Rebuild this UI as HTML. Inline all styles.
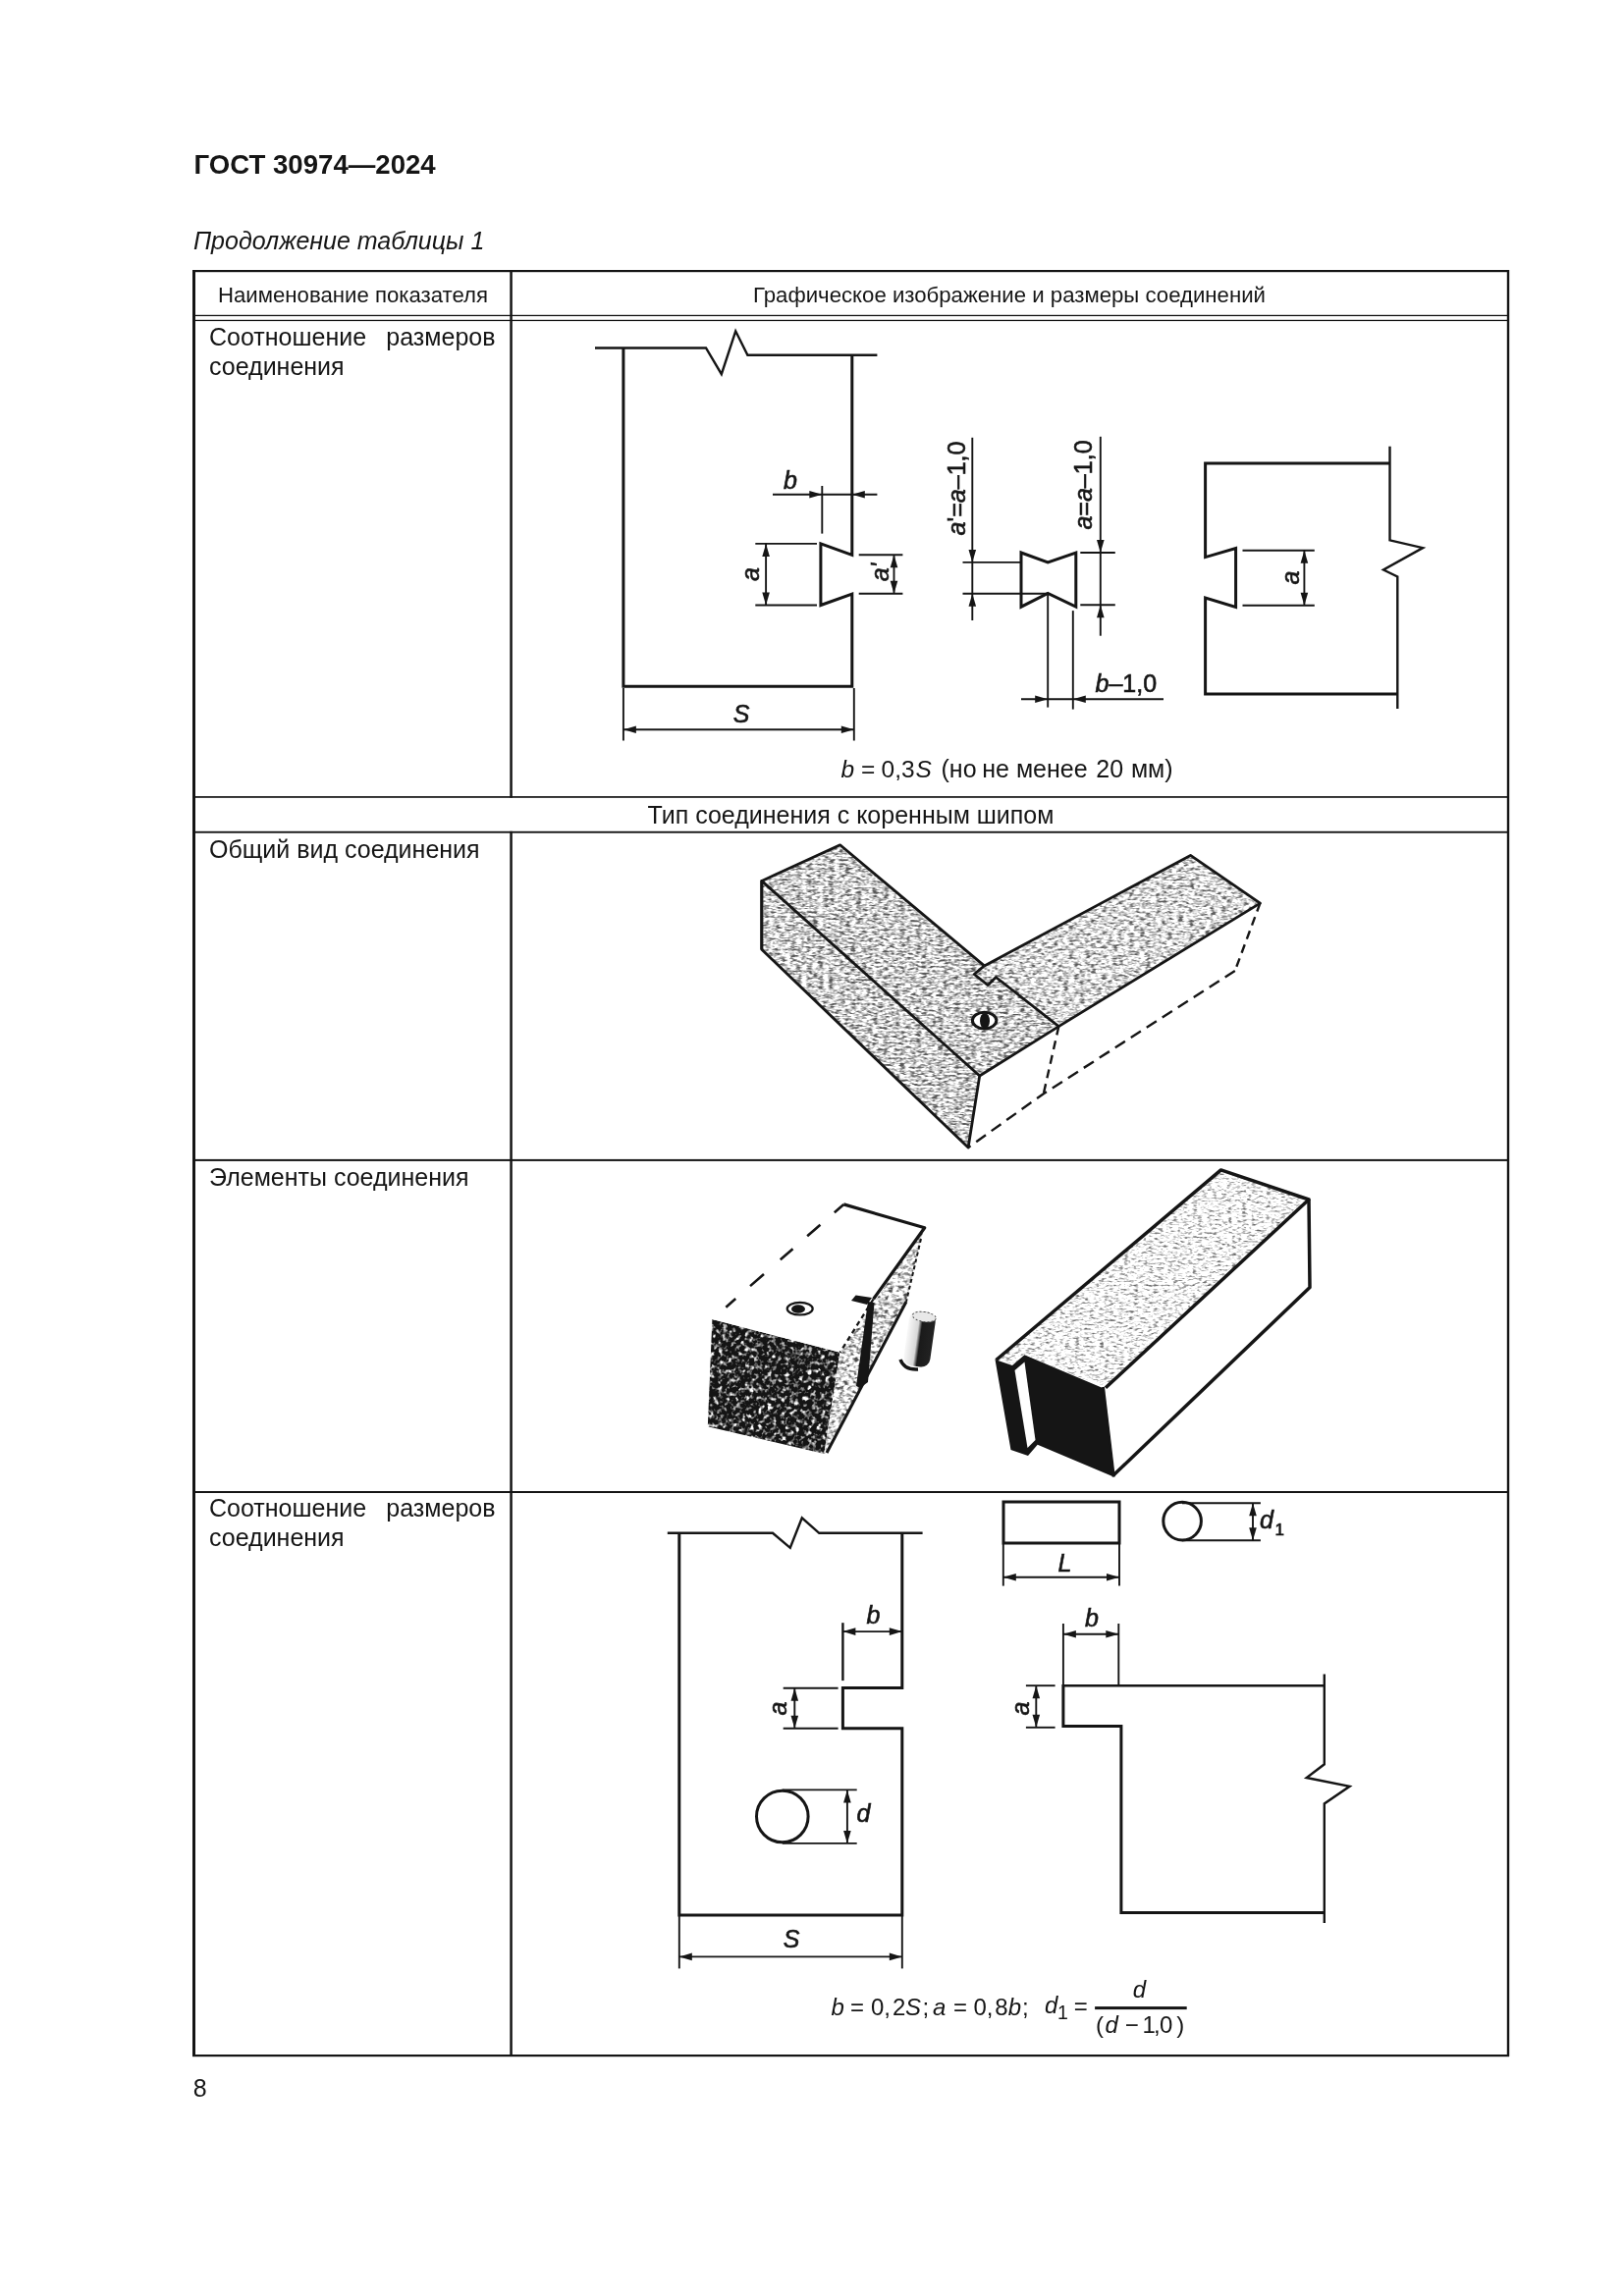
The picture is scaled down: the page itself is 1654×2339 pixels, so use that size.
<!DOCTYPE html>
<html><head><meta charset="utf-8"><style>
html,body{margin:0;padding:0;background:#fff;}
svg{display:block;font-family:"Liberation Sans",sans-serif;will-change:transform;}
</style></head><body>
<svg width="1654" height="2339" viewBox="0 0 1654 2339">
<defs><filter id="texM" x="0" y="0" width="100%" height="100%" filterUnits="objectBoundingBox" color-interpolation-filters="sRGB">
<feTurbulence type="fractalNoise" baseFrequency="0.18 0.45" numOctaves="2" seed="3" result="n"/>
<feColorMatrix in="n" type="matrix" values="0.33 0.33 0.33 0 0  0.33 0.33 0.33 0 0  0.33 0.33 0.33 0 0  0 0 0 0 1" result="g"/>
<feComponentTransfer in="g" result="c"><feFuncR type="linear" slope="5" intercept="-1.77"/><feFuncG type="linear" slope="5" intercept="-1.77"/><feFuncB type="linear" slope="5" intercept="-1.77"/></feComponentTransfer>
<feComponentTransfer in="c" result="d"><feFuncR type="linear" slope="0.65" intercept="0.35"/><feFuncG type="linear" slope="0.65" intercept="0.35"/><feFuncB type="linear" slope="0.65" intercept="0.35"/></feComponentTransfer>
<feComposite in="d" in2="SourceGraphic" operator="in"/>
</filter><filter id="texL" x="0" y="0" width="100%" height="100%" filterUnits="objectBoundingBox" color-interpolation-filters="sRGB">
<feTurbulence type="fractalNoise" baseFrequency="0.18 0.45" numOctaves="2" seed="5" result="n"/>
<feColorMatrix in="n" type="matrix" values="0.33 0.33 0.33 0 0  0.33 0.33 0.33 0 0  0.33 0.33 0.33 0 0  0 0 0 0 1" result="g"/>
<feComponentTransfer in="g" result="c"><feFuncR type="linear" slope="5" intercept="-1.7"/><feFuncG type="linear" slope="5" intercept="-1.7"/><feFuncB type="linear" slope="5" intercept="-1.7"/></feComponentTransfer>
<feComponentTransfer in="c" result="d"><feFuncR type="linear" slope="0.64" intercept="0.36"/><feFuncG type="linear" slope="0.64" intercept="0.36"/><feFuncB type="linear" slope="0.64" intercept="0.36"/></feComponentTransfer>
<feComposite in="d" in2="SourceGraphic" operator="in"/>
</filter><filter id="texD" x="0" y="0" width="100%" height="100%" filterUnits="objectBoundingBox" color-interpolation-filters="sRGB">
<feTurbulence type="fractalNoise" baseFrequency="0.22 0.22" numOctaves="2" seed="7" result="n"/>
<feColorMatrix in="n" type="matrix" values="0.33 0.33 0.33 0 0  0.33 0.33 0.33 0 0  0.33 0.33 0.33 0 0  0 0 0 0 1" result="g"/>
<feComponentTransfer in="g" result="c"><feFuncR type="linear" slope="6" intercept="-2.9"/><feFuncG type="linear" slope="6" intercept="-2.9"/><feFuncB type="linear" slope="6" intercept="-2.9"/></feComponentTransfer>
<feComponentTransfer in="c" result="d"><feFuncR type="linear" slope="0.92" intercept="0.08"/><feFuncG type="linear" slope="0.92" intercept="0.08"/><feFuncB type="linear" slope="0.92" intercept="0.08"/></feComponentTransfer>
<feComposite in="d" in2="SourceGraphic" operator="in"/>
</filter><filter id="texM2" x="0" y="0" width="100%" height="100%" filterUnits="objectBoundingBox" color-interpolation-filters="sRGB">
<feTurbulence type="fractalNoise" baseFrequency="0.2 0.3" numOctaves="2" seed="9" result="n"/>
<feColorMatrix in="n" type="matrix" values="0.33 0.33 0.33 0 0  0.33 0.33 0.33 0 0  0.33 0.33 0.33 0 0  0 0 0 0 1" result="g"/>
<feComponentTransfer in="g" result="c"><feFuncR type="linear" slope="5" intercept="-1.7"/><feFuncG type="linear" slope="5" intercept="-1.7"/><feFuncB type="linear" slope="5" intercept="-1.7"/></feComponentTransfer>
<feComponentTransfer in="c" result="d"><feFuncR type="linear" slope="0.7" intercept="0.3"/><feFuncG type="linear" slope="0.7" intercept="0.3"/><feFuncB type="linear" slope="0.7" intercept="0.3"/></feComponentTransfer>
<feComposite in="d" in2="SourceGraphic" operator="in"/>
</filter><filter id="texL2" x="0" y="0" width="100%" height="100%" filterUnits="objectBoundingBox" color-interpolation-filters="sRGB">
<feTurbulence type="fractalNoise" baseFrequency="0.2 0.45" numOctaves="2" seed="11" result="n"/>
<feColorMatrix in="n" type="matrix" values="0.33 0.33 0.33 0 0  0.33 0.33 0.33 0 0  0.33 0.33 0.33 0 0  0 0 0 0 1" result="g"/>
<feComponentTransfer in="g" result="c"><feFuncR type="linear" slope="5" intercept="-1.5"/><feFuncG type="linear" slope="5" intercept="-1.5"/><feFuncB type="linear" slope="5" intercept="-1.5"/></feComponentTransfer>
<feComponentTransfer in="c" result="d"><feFuncR type="linear" slope="0.6" intercept="0.4"/><feFuncG type="linear" slope="0.6" intercept="0.4"/><feFuncB type="linear" slope="0.6" intercept="0.4"/></feComponentTransfer>
<feComposite in="d" in2="SourceGraphic" operator="in"/>
</filter></defs>
<text x="197.5" y="176.7" font-size="27.6" font-weight="bold" font-style="normal" text-anchor="start" fill="#151515" >ГОСТ 30974—2024</text>
<text x="197" y="253.6" font-size="25" font-weight="normal" font-style="italic" text-anchor="start" fill="#151515" >Продолжение таблицы 1</text>
<rect x="196" y="275" width="1341" height="2.2" fill="#151515"/>
<rect x="196" y="275" width="3" height="1820" fill="#151515"/>
<rect x="1534.8" y="275" width="2.4" height="1820" fill="#151515"/>
<rect x="196" y="2093" width="1341" height="2.2" fill="#151515"/>
<rect x="196" y="320.8" width="1341" height="1.3" fill="#151515"/>
<rect x="196" y="325.8" width="1341" height="1.3" fill="#151515"/>
<rect x="519.3" y="275" width="2.5" height="537.7" fill="#151515"/>
<rect x="519.3" y="846.8" width="2.5" height="1248.2" fill="#151515"/>
<rect x="196" y="811.1" width="1341" height="1.7" fill="#151515"/>
<rect x="196" y="846.8" width="1341" height="1.9" fill="#151515"/>
<rect x="196" y="1180.9" width="1341" height="2" fill="#151515"/>
<rect x="196" y="1519" width="1341" height="2" fill="#151515"/>
<text x="359.5" y="307.8" font-size="22.2" font-weight="normal" font-style="normal" text-anchor="middle" fill="#151515" >Наименование показателя</text>
<text x="1028" y="307.8" font-size="22.2" font-weight="normal" font-style="normal" text-anchor="middle" fill="#151515" >Графическое изображение и размеры соединений</text>
<text x="213" y="351.7" font-size="25" font-weight="normal" font-style="normal" text-anchor="start" fill="#151515" >Соотношение</text>
<text x="504.5" y="351.7" font-size="25" font-weight="normal" font-style="normal" text-anchor="end" fill="#151515" >размеров</text>
<text x="213" y="381.7" font-size="25" font-weight="normal" font-style="normal" text-anchor="start" fill="#151515" >соединения</text>
<text x="866.5" y="838.7" font-size="25" font-weight="normal" font-style="normal" text-anchor="middle" fill="#151515" >Тип соединения с коренным шипом</text>
<text x="213" y="873.9" font-size="25" font-weight="normal" font-style="normal" text-anchor="start" fill="#151515" >Общий вид соединения</text>
<text x="213" y="1207.9" font-size="25" font-weight="normal" font-style="normal" text-anchor="start" fill="#151515" >Элементы соединения</text>
<text x="213" y="1545.4" font-size="25" font-weight="normal" font-style="normal" text-anchor="start" fill="#151515" >Соотношение</text>
<text x="504.5" y="1545.4" font-size="25" font-weight="normal" font-style="normal" text-anchor="end" fill="#151515" >размеров</text>
<text x="213" y="1575.4" font-size="25" font-weight="normal" font-style="normal" text-anchor="start" fill="#151515" >соединения</text>
<text x="196.8" y="2135.6" font-size="25" font-weight="normal" font-style="normal" text-anchor="start" fill="#151515" >8</text>
<polyline points="606,354.5 719,354.5 734.8,381.2 749.2,337.3 761.4,361.8 893.4,361.8" fill="none" stroke="#151515" stroke-width="2.4" stroke-linejoin="miter" stroke-linecap="butt"/>
<polyline points="634.9,354.5 634.9,699.3 867.8,699.3 867.8,605.1 835.9,616.5 835.9,553.9 867.8,565.3 867.8,361.8" fill="none" stroke="#151515" stroke-width="3.0" stroke-linejoin="miter" stroke-linecap="butt"/>
<line x1="787" y1="503.8" x2="893.4" y2="503.8" stroke="#151515" stroke-width="1.9" stroke-linecap="butt"/>
<line x1="837.3" y1="495" x2="837.3" y2="543.6" stroke="#151515" stroke-width="1.9" stroke-linecap="butt"/>
<polygon points="837.3,503.8 824.30,507.60 824.30,500.00" fill="#151515"/>
<polygon points="867.8,503.8 880.80,500.00 880.80,507.60" fill="#151515"/>
<text x="798" y="497.5" font-size="25" font-weight="normal" font-style="italic" text-anchor="start" fill="#151515" stroke="#151515" stroke-width="0.6">b</text>
<line x1="769.3" y1="553.9" x2="832" y2="553.9" stroke="#151515" stroke-width="1.9" stroke-linecap="butt"/>
<line x1="769.3" y1="616.5" x2="832" y2="616.5" stroke="#151515" stroke-width="1.9" stroke-linecap="butt"/>
<line x1="780.1" y1="553.9" x2="780.1" y2="616.5" stroke="#151515" stroke-width="1.9" stroke-linecap="butt"/>
<polygon points="780.1,553.9 783.90,566.90 776.30,566.90" fill="#151515"/>
<polygon points="780.1,616.5 776.30,603.50 783.90,603.50" fill="#151515"/>
<text x="0" y="0" font-size="25" font-style="italic" text-anchor="middle" fill="#151515" dominant-baseline="central" transform="translate(763.5,585) rotate(-90)" stroke="#151515" stroke-width="0.6">a</text>
<line x1="874.7" y1="565.3" x2="919.4" y2="565.3" stroke="#151515" stroke-width="1.9" stroke-linecap="butt"/>
<line x1="874.7" y1="604.8" x2="919.4" y2="604.8" stroke="#151515" stroke-width="1.9" stroke-linecap="butt"/>
<line x1="910.5" y1="565.3" x2="910.5" y2="604.8" stroke="#151515" stroke-width="1.9" stroke-linecap="butt"/>
<polygon points="910.5,565.3 914.30,578.30 906.70,578.30" fill="#151515"/>
<polygon points="910.5,604.8 906.70,591.80 914.30,591.80" fill="#151515"/>
<text x="0" y="0" font-size="25" font-style="italic" text-anchor="middle" fill="#151515" dominant-baseline="central" transform="translate(895.5,583) rotate(-90)" stroke="#151515" stroke-width="0.6">a'</text>
<line x1="634.9" y1="701" x2="634.9" y2="754.5" stroke="#151515" stroke-width="1.9" stroke-linecap="butt"/>
<line x1="869.8" y1="701" x2="869.8" y2="754.5" stroke="#151515" stroke-width="1.9" stroke-linecap="butt"/>
<line x1="634.9" y1="743.3" x2="869.8" y2="743.3" stroke="#151515" stroke-width="1.9" stroke-linecap="butt"/>
<polygon points="634.9,743.3 647.90,739.50 647.90,747.10" fill="#151515"/>
<polygon points="869.8,743.3 856.80,747.10 856.80,739.50" fill="#151515"/>
<text x="755" y="735.8" font-size="25" font-weight="normal" font-style="italic" text-anchor="middle" fill="#151515" stroke="#151515" stroke-width="0.6">S</text>
<polygon points="1040,563 1067.2,572.9 1095.8,563 1095.8,618.2 1067.2,604.4 1040,618.2" fill="none" stroke="#151515" stroke-width="3.0" stroke-linejoin="miter" stroke-linecap="butt"/>
<line x1="990.3" y1="445.8" x2="990.3" y2="632" stroke="#151515" stroke-width="1.9" stroke-linecap="butt"/>
<line x1="980.5" y1="572.9" x2="1040" y2="572.9" stroke="#151515" stroke-width="1.9" stroke-linecap="butt"/>
<line x1="980.5" y1="604.8" x2="1067" y2="604.8" stroke="#151515" stroke-width="1.9" stroke-linecap="butt"/>
<polygon points="990.3,572.9 986.50,559.90 994.10,559.90" fill="#151515"/>
<polygon points="990.3,604.8 994.10,617.80 986.50,617.80" fill="#151515"/>
<text x="0" y="0" font-size="25" font-style="normal" text-anchor="middle" fill="#151515" dominant-baseline="central" transform="translate(973.5,497.5) rotate(-90)" stroke="#151515" stroke-width="0.6"><tspan font-style='italic'>a</tspan>'=<tspan font-style='italic'>a</tspan>–1,0</text>
<line x1="1120.8" y1="444.8" x2="1120.8" y2="647.7" stroke="#151515" stroke-width="1.9" stroke-linecap="butt"/>
<line x1="1100.3" y1="563" x2="1135.8" y2="563" stroke="#151515" stroke-width="1.9" stroke-linecap="butt"/>
<line x1="1100.3" y1="616.2" x2="1135.8" y2="616.2" stroke="#151515" stroke-width="1.9" stroke-linecap="butt"/>
<polygon points="1120.8,563 1117.00,550.00 1124.60,550.00" fill="#151515"/>
<polygon points="1120.8,616.2 1124.60,629.20 1117.00,629.20" fill="#151515"/>
<text x="0" y="0" font-size="25" font-style="normal" text-anchor="middle" fill="#151515" dominant-baseline="central" transform="translate(1103,494) rotate(-90)" stroke="#151515" stroke-width="0.6"><tspan font-style='italic'>a</tspan>=<tspan font-style='italic'>a</tspan>–1,0</text>
<line x1="1067.2" y1="604.4" x2="1067.2" y2="720.6" stroke="#151515" stroke-width="1.9" stroke-linecap="butt"/>
<line x1="1092.8" y1="622.1" x2="1092.8" y2="722.6" stroke="#151515" stroke-width="1.9" stroke-linecap="butt"/>
<line x1="1040" y1="712.2" x2="1185" y2="712.2" stroke="#151515" stroke-width="1.9" stroke-linecap="butt"/>
<polygon points="1067.2,712.2 1054.20,716.00 1054.20,708.40" fill="#151515"/>
<polygon points="1092.8,712.2 1105.80,708.40 1105.80,716.00" fill="#151515"/>
<text x="1115.5" y="704.6" font-size="25" font-weight="normal" font-style="normal" text-anchor="start" fill="#151515" stroke="#151515" stroke-width="0.6"><tspan font-style='italic'>b</tspan>–1,0</text>
<polyline points="1415.5,471.9 1227.6,471.9 1227.6,567.6 1258.6,558.6 1258.6,618.4 1227.6,609 1227.6,706.9 1423.3,706.9" fill="none" stroke="#151515" stroke-width="3.0" stroke-linejoin="miter" stroke-linecap="butt"/>
<polyline points="1415.5,454.7 1415.5,550.3 1449.1,558.1 1409,580.5 1423.3,587.4 1423.3,721.9" fill="none" stroke="#151515" stroke-width="2.4" stroke-linejoin="miter" stroke-linecap="butt"/>
<line x1="1265.5" y1="560.7" x2="1338.8" y2="560.7" stroke="#151515" stroke-width="1.9" stroke-linecap="butt"/>
<line x1="1265.5" y1="616.7" x2="1338.8" y2="616.7" stroke="#151515" stroke-width="1.9" stroke-linecap="butt"/>
<line x1="1328.4" y1="560.7" x2="1328.4" y2="616.7" stroke="#151515" stroke-width="1.9" stroke-linecap="butt"/>
<polygon points="1328.4,560.7 1332.20,573.70 1324.60,573.70" fill="#151515"/>
<polygon points="1328.4,616.7 1324.60,603.70 1332.20,603.70" fill="#151515"/>
<text x="0" y="0" font-size="25" font-style="italic" text-anchor="middle" fill="#151515" dominant-baseline="central" transform="translate(1314,588.5) rotate(-90)" stroke="#151515" stroke-width="0.6">a</text>
<text x="856.5" y="791.6" font-size="24.5" font-weight="normal" font-style="italic" text-anchor="start" fill="#151515" >b</text>
<text x="877" y="791.6" font-size="24.5" font-weight="normal" font-style="normal" text-anchor="start" fill="#151515" >=</text>
<text x="897.5" y="791.6" font-size="24.5" font-weight="normal" font-style="normal" text-anchor="start" fill="#151515" >0,3</text>
<text x="932.5" y="791.6" font-size="24.5" font-weight="normal" font-style="italic" text-anchor="start" fill="#151515" >S</text>
<text x="958.5" y="791.6" font-size="25" font-weight="normal" font-style="normal" text-anchor="start" fill="#151515" >(но</text>
<text x="1000.3" y="791.6" font-size="25" font-weight="normal" font-style="normal" text-anchor="start" fill="#151515" >не</text>
<text x="1034.9" y="791.6" font-size="25" font-weight="normal" font-style="normal" text-anchor="start" fill="#151515" >менее</text>
<text x="1116.3" y="791.6" font-size="25" font-weight="normal" font-style="normal" text-anchor="start" fill="#151515" >20</text>
<text x="1151.9" y="791.6" font-size="25" font-weight="normal" font-style="normal" text-anchor="start" fill="#151515" >мм)</text>
<polyline points="679.8,1561.8 787,1561.8 804.8,1576.8 816.8,1546.4 834.3,1561.8 939.6,1561.8" fill="none" stroke="#151515" stroke-width="2.4" stroke-linejoin="miter" stroke-linecap="butt"/>
<polyline points="691.8,1561.8 691.8,1950.9 918.8,1950.9 918.8,1760.7 858.4,1760.7 858.4,1719.6 918.8,1719.6 918.8,1561.8" fill="none" stroke="#151515" stroke-width="3.0" stroke-linejoin="miter" stroke-linecap="butt"/>
<line x1="858.4" y1="1653.2" x2="858.4" y2="1712.1" stroke="#151515" stroke-width="2.4" stroke-linecap="butt"/>
<line x1="858.4" y1="1662.1" x2="918.8" y2="1662.1" stroke="#151515" stroke-width="1.9" stroke-linecap="butt"/>
<polygon points="858.4,1662.1 871.40,1658.30 871.40,1665.90" fill="#151515"/>
<polygon points="918.8,1662.1 905.80,1665.90 905.80,1658.30" fill="#151515"/>
<text x="882.5" y="1653.5" font-size="25" font-weight="normal" font-style="italic" text-anchor="start" fill="#151515" stroke="#151515" stroke-width="0.6">b</text>
<line x1="797.7" y1="1719.8" x2="853.6" y2="1719.8" stroke="#151515" stroke-width="1.9" stroke-linecap="butt"/>
<line x1="797.7" y1="1760.7" x2="853.6" y2="1760.7" stroke="#151515" stroke-width="1.9" stroke-linecap="butt"/>
<line x1="809.3" y1="1719.8" x2="809.3" y2="1760.7" stroke="#151515" stroke-width="1.9" stroke-linecap="butt"/>
<polygon points="809.3,1719.8 813.10,1732.80 805.50,1732.80" fill="#151515"/>
<polygon points="809.3,1760.7 805.50,1747.70 813.10,1747.70" fill="#151515"/>
<text x="0" y="0" font-size="25" font-style="italic" text-anchor="middle" fill="#151515" dominant-baseline="central" transform="translate(791.5,1740.5) rotate(-90)" stroke="#151515" stroke-width="0.6">a</text>
<circle cx="796.8" cy="1850.5" r="26.3" fill="none" stroke="#151515" stroke-width="3.0"/>
<line x1="796.8" y1="1823.4" x2="872.7" y2="1823.4" stroke="#151515" stroke-width="1.9" stroke-linecap="butt"/>
<line x1="796.8" y1="1877.9" x2="872.7" y2="1877.9" stroke="#151515" stroke-width="1.9" stroke-linecap="butt"/>
<line x1="862.9" y1="1823.4" x2="862.9" y2="1877.9" stroke="#151515" stroke-width="1.9" stroke-linecap="butt"/>
<polygon points="862.9,1823.4 866.70,1836.40 859.10,1836.40" fill="#151515"/>
<polygon points="862.9,1877.9 859.10,1864.90 866.70,1864.90" fill="#151515"/>
<text x="872.5" y="1856.2" font-size="25" font-weight="normal" font-style="italic" text-anchor="start" fill="#151515" stroke="#151515" stroke-width="0.6">d</text>
<line x1="691.8" y1="1952" x2="691.8" y2="2005.4" stroke="#151515" stroke-width="1.9" stroke-linecap="butt"/>
<line x1="918.8" y1="1952" x2="918.8" y2="2005.4" stroke="#151515" stroke-width="1.9" stroke-linecap="butt"/>
<line x1="691.8" y1="1993.4" x2="918.8" y2="1993.4" stroke="#151515" stroke-width="1.9" stroke-linecap="butt"/>
<polygon points="691.8,1993.4 704.80,1989.60 704.80,1997.20" fill="#151515"/>
<polygon points="918.8,1993.4 905.80,1997.20 905.80,1989.60" fill="#151515"/>
<text x="806" y="1983.6" font-size="25" font-weight="normal" font-style="italic" text-anchor="middle" fill="#151515" stroke="#151515" stroke-width="0.6">S</text>
<polygon points="1022,1530 1140,1530 1140,1572 1022,1572" fill="none" stroke="#151515" stroke-width="3.0" stroke-linejoin="miter" stroke-linecap="butt"/>
<line x1="1021.8" y1="1573" x2="1021.8" y2="1615.6" stroke="#151515" stroke-width="1.9" stroke-linecap="butt"/>
<line x1="1140" y1="1573" x2="1140" y2="1615.6" stroke="#151515" stroke-width="1.9" stroke-linecap="butt"/>
<line x1="1021.8" y1="1606.7" x2="1140" y2="1606.7" stroke="#151515" stroke-width="1.9" stroke-linecap="butt"/>
<polygon points="1021.8,1606.7 1034.80,1602.90 1034.80,1610.50" fill="#151515"/>
<polygon points="1140,1606.7 1127.00,1610.50 1127.00,1602.90" fill="#151515"/>
<text x="1084.5" y="1600.8" font-size="25" font-weight="normal" font-style="italic" text-anchor="middle" fill="#151515" stroke="#151515" stroke-width="0.6">L</text>
<circle cx="1204.1" cy="1549.6" r="19.3" fill="none" stroke="#151515" stroke-width="3.0"/>
<line x1="1204" y1="1531.2" x2="1283.9" y2="1531.2" stroke="#151515" stroke-width="1.9" stroke-linecap="butt"/>
<line x1="1204" y1="1569.3" x2="1283.9" y2="1569.3" stroke="#151515" stroke-width="1.9" stroke-linecap="butt"/>
<line x1="1276" y1="1531.2" x2="1276" y2="1569.3" stroke="#151515" stroke-width="1.9" stroke-linecap="butt"/>
<polygon points="1276,1531.2 1279.80,1544.20 1272.20,1544.20" fill="#151515"/>
<polygon points="1276,1569.3 1272.20,1556.30 1279.80,1556.30" fill="#151515"/>
<text x="1283" y="1557.4" font-size="25" font-weight="normal" font-style="italic" text-anchor="start" fill="#151515" stroke="#151515" stroke-width="0.6">d</text>
<text x="1298.5" y="1563.6" font-size="17" font-weight="normal" font-style="normal" text-anchor="start" fill="#151515" stroke="#151515" stroke-width="0.6">1</text>
<line x1="1082.9" y1="1717.2" x2="1348.8" y2="1717.2" stroke="#151515" stroke-width="2.4" stroke-linecap="butt"/>
<polyline points="1082.9,1716 1082.9,1758.5 1141.9,1758.5 1141.9,1948.6 1348.8,1948.6" fill="none" stroke="#151515" stroke-width="3.0" stroke-linejoin="miter" stroke-linecap="butt"/>
<polyline points="1348.8,1705.5 1348.8,1797.3 1330.7,1811 1374.6,1819.8 1348.8,1837.4 1348.8,1959" fill="none" stroke="#151515" stroke-width="2.4" stroke-linejoin="miter" stroke-linecap="butt"/>
<line x1="1082.9" y1="1654" x2="1082.9" y2="1717" stroke="#151515" stroke-width="1.9" stroke-linecap="butt"/>
<line x1="1139.3" y1="1654" x2="1139.3" y2="1717" stroke="#151515" stroke-width="1.9" stroke-linecap="butt"/>
<line x1="1082.9" y1="1664.8" x2="1139.3" y2="1664.8" stroke="#151515" stroke-width="1.9" stroke-linecap="butt"/>
<polygon points="1082.9,1664.8 1095.90,1661.00 1095.90,1668.60" fill="#151515"/>
<polygon points="1139.3,1664.8 1126.30,1668.60 1126.30,1661.00" fill="#151515"/>
<text x="1105" y="1657" font-size="25" font-weight="normal" font-style="italic" text-anchor="start" fill="#151515" stroke="#151515" stroke-width="0.6">b</text>
<line x1="1044.9" y1="1717.2" x2="1074.6" y2="1717.2" stroke="#151515" stroke-width="1.9" stroke-linecap="butt"/>
<line x1="1044.9" y1="1759.8" x2="1074.6" y2="1759.8" stroke="#151515" stroke-width="1.9" stroke-linecap="butt"/>
<line x1="1055.3" y1="1717.2" x2="1055.3" y2="1759.8" stroke="#151515" stroke-width="1.9" stroke-linecap="butt"/>
<polygon points="1055.3,1717.2 1059.10,1730.20 1051.50,1730.20" fill="#151515"/>
<polygon points="1055.3,1759.8 1051.50,1746.80 1059.10,1746.80" fill="#151515"/>
<text x="0" y="0" font-size="25" font-style="italic" text-anchor="middle" fill="#151515" dominant-baseline="central" transform="translate(1039,1740.5) rotate(-90)" stroke="#151515" stroke-width="0.6">a</text>
<text x="846.5" y="2053.2" font-size="24" font-weight="normal" font-style="italic" text-anchor="start" fill="#151515" >b</text>
<text x="866" y="2053.2" font-size="24" font-weight="normal" font-style="normal" text-anchor="start" fill="#151515" >=</text>
<text x="887" y="2053.2" font-size="24" font-weight="normal" font-style="normal" text-anchor="start" fill="#151515" >0,</text>
<text x="909" y="2053.2" font-size="24" font-weight="normal" font-style="normal" text-anchor="start" fill="#151515" >2</text>
<text x="922" y="2053.2" font-size="24" font-weight="normal" font-style="italic" text-anchor="start" fill="#151515" >S</text>
<text x="939.5" y="2053.2" font-size="24" font-weight="normal" font-style="normal" text-anchor="start" fill="#151515" >;</text>
<text x="950" y="2053.2" font-size="24" font-weight="normal" font-style="italic" text-anchor="start" fill="#151515" >a</text>
<text x="971" y="2053.2" font-size="24" font-weight="normal" font-style="normal" text-anchor="start" fill="#151515" >=</text>
<text x="991.5" y="2053.2" font-size="24" font-weight="normal" font-style="normal" text-anchor="start" fill="#151515" >0,</text>
<text x="1013.2" y="2053.2" font-size="24" font-weight="normal" font-style="normal" text-anchor="start" fill="#151515" >8</text>
<text x="1026.8" y="2053.2" font-size="24" font-weight="normal" font-style="italic" text-anchor="start" fill="#151515" >b</text>
<text x="1041" y="2053.2" font-size="24" font-weight="normal" font-style="normal" text-anchor="start" fill="#151515" >;</text>
<text x="1064" y="2050.8" font-size="24" font-weight="normal" font-style="italic" text-anchor="start" fill="#151515" >d</text>
<text x="1077" y="2057.4" font-size="19.5" font-weight="normal" font-style="normal" text-anchor="start" fill="#151515" >1</text>
<text x="1093.8" y="2051.5" font-size="24" font-weight="normal" font-style="normal" text-anchor="start" fill="#151515" >=</text>
<rect x="1115.1" y="2044.1" width="93.6" height="3" fill="#151515"/>
<text x="1153.8" y="2034.7" font-size="24" font-weight="normal" font-style="italic" text-anchor="start" fill="#151515" >d</text>
<text x="1116" y="2070.7" font-size="24" font-weight="normal" font-style="normal" text-anchor="start" fill="#151515" >(</text>
<text x="1125.5" y="2070.7" font-size="24" font-weight="normal" font-style="italic" text-anchor="start" fill="#151515" >d</text>
<text x="1145.8" y="2070.7" font-size="24" font-weight="normal" font-style="normal" text-anchor="start" fill="#151515" >−</text>
<text x="1163.6" y="2070.7" font-size="24" font-weight="normal" font-style="normal" text-anchor="start" fill="#151515" >1</text>
<text x="1175" y="2070.7" font-size="24" font-weight="normal" font-style="normal" text-anchor="start" fill="#151515" >,</text>
<text x="1181" y="2070.7" font-size="24" font-weight="normal" font-style="normal" text-anchor="start" fill="#151515" >0</text>
<text x="1198.3" y="2070.7" font-size="24" font-weight="normal" font-style="normal" text-anchor="start" fill="#151515" >)</text>
<polygon points="775.8,897.4 997.7,1096 986.1,1169 775.8,967.2" fill="#fff" filter="url(#texM)"/>
<polygon points="775.8,897.4 855.6,860.8 1002.5,983.9 992.2,992.5 1006.2,1003.6 1014.3,995.5 1078.3,1045.6 997.7,1096" fill="#fff" filter="url(#texM)"/>
<polygon points="1002.5,983.9 1212.5,871.4 1283.4,920.1 1078.3,1045.6 1014.3,995.5 1006.2,1003.6 992.2,992.5" fill="#fff" filter="url(#texL)"/>
<polyline points="775.8,967.2 775.8,897.4 855.6,860.8 1002.5,983.9" fill="none" stroke="#151515" stroke-width="2.8" stroke-linejoin="round" stroke-linecap="butt"/>
<polygon points="775.8,897.4 997.7,1096 986.1,1169 775.8,967.2" fill="none" stroke="#151515" stroke-width="2.8" stroke-linejoin="round" stroke-linecap="butt"/>
<polyline points="997.7,1096 1078.3,1045.6 1283.4,920.1 1212.5,871.4 1002.5,983.9" fill="none" stroke="#151515" stroke-width="2.8" stroke-linejoin="round" stroke-linecap="butt"/>
<polyline points="1002.5,983.9 992.2,992.5 1006.2,1003.6 1014.3,995.5 1078.3,1045.6" fill="none" stroke="#151515" stroke-width="2.8" stroke-linejoin="round" stroke-linecap="butt"/>
<line x1="1078.3" y1="1045.6" x2="1062.8" y2="1114.2" stroke="#151515" stroke-width="2.4" stroke-linecap="butt" stroke-dasharray="9,6"/>
<line x1="1283.4" y1="920.1" x2="1257.8" y2="989" stroke="#151515" stroke-width="2.4" stroke-linecap="butt" stroke-dasharray="9,6"/>
<polyline points="1257.8,989 1062.8,1114.2 986.1,1169" fill="none" stroke="#151515" stroke-width="2.4" stroke-linejoin="miter" stroke-linecap="butt" stroke-dasharray="12,7"/>
<ellipse cx="1002.6" cy="1039.6" rx="12.2" ry="8.3" fill="#fff" stroke="#151515" stroke-width="3"/>
<ellipse cx="1003" cy="1040" rx="5" ry="8" fill="#151515"/>
<polygon points="725.4,1343.9 855.5,1377.8 839.3,1480.9 720.8,1453.2" fill="#fff" filter="url(#texD)"/>
<polygon points="855.5,1377.8 941.7,1250.8 938,1262 922.4,1327 843.9,1478 839.3,1480.9" fill="#fff" filter="url(#texM2)"/>
<polygon points="859.3,1226.9 941.7,1250.8 855.5,1377.8 725.4,1343.9" fill="#fff"/>
<polyline points="859.3,1226.9 941.7,1250.8 889.6,1323.3" fill="none" stroke="#151515" stroke-width="3.2" stroke-linejoin="round" stroke-linecap="butt"/>
<line x1="889.6" y1="1323.3" x2="855.5" y2="1377.8" stroke="#151515" stroke-width="2.2" stroke-linecap="butt" stroke-dasharray="5,4"/>
<line x1="923" y1="1326" x2="842" y2="1480" stroke="#151515" stroke-width="3" stroke-linecap="butt"/>
<line x1="938" y1="1262" x2="923" y2="1326" stroke="#151515" stroke-width="2" stroke-linecap="butt" stroke-dasharray="4,3"/>
<line x1="859.3" y1="1226.9" x2="725.4" y2="1343.9" stroke="#151515" stroke-width="2.6" stroke-linecap="butt" stroke-dasharray="12.6,19.1,17.6,19.5,16.9,22.3,18.5,19.7,13.1,40"/>
<polygon points="884,1326 890.5,1327 884,1408 876,1414 872,1412" fill="#151515"/>
<polygon points="867,1325 871.6,1319.5 888,1322 883,1329" fill="#151515"/>
<ellipse cx="814.7" cy="1333.2" rx="13" ry="6.3" fill="#fff" stroke="#151515" stroke-width="2.2"/>
<ellipse cx="813" cy="1333.5" rx="7" ry="4.3" fill="#151515"/>
<linearGradient id="pinG" x1="0" x2="1" y1="0" y2="0"><stop offset="0" stop-color="#f8f8f8"/><stop offset="0.38" stop-color="#d8d8d8"/><stop offset="0.52" stop-color="#1a1a1a"/><stop offset="1" stop-color="#222"/></linearGradient>
<g transform="rotate(8 936 1365)"><rect x="923" y="1336" width="27" height="56" rx="9" fill="url(#pinG)"/><ellipse cx="938" cy="1341" rx="12" ry="5" fill="#e8e8e8" stroke="#555" stroke-width="1" stroke-dasharray="2,2"/></g>
<path d="M917,1385 Q921,1396 935,1395" fill="none" stroke="#151515" stroke-width="3.5"/>
<polygon points="1013.5,1385 1243.5,1191.9 1333,1222 1126,1413.8 1043.4,1380.3 1031,1391" fill="#fff" filter="url(#texL2)"/>
<polygon points="1013.5,1385 1031,1391 1043.4,1380.3 1123.1,1414 1134.3,1504.5 1056.7,1471.7 1047,1483 1029.5,1477" fill="#151515"/>
<polygon points="1033.5,1396 1043.5,1387.5 1054.5,1467 1046.5,1475" fill="#fff"/>
<polyline points="1014.5,1385.5 1243.5,1191.9 1333,1222 1126,1413.8" fill="none" stroke="#151515" stroke-width="3.5" stroke-linejoin="round" stroke-linecap="butt"/>
<polyline points="1333,1222 1334,1311.5 1133.6,1503.3" fill="none" stroke="#151515" stroke-width="3.5" stroke-linejoin="round" stroke-linecap="butt"/>
<polyline points="1123.5,1413 1134.3,1504.5" fill="none" stroke="#151515" stroke-width="3" stroke-linejoin="miter" stroke-linecap="butt"/>
</svg>
</body></html>
